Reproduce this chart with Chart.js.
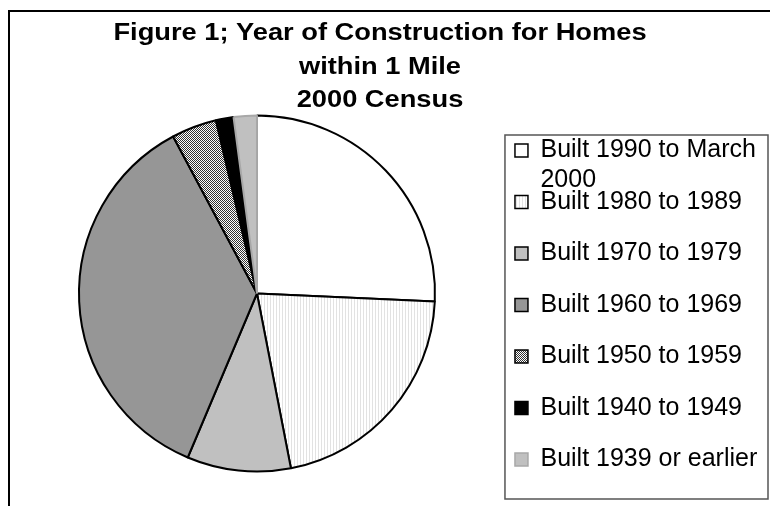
<!DOCTYPE html>
<html>
<head>
<meta charset="utf-8">
<script src="https://cdn.jsdelivr.net/npm/chart.js@4.4.0/dist/chart.umd.min.js"></script>
<style>
  html, body { margin: 0; padding: 0; background: #fff; }
</style>
</head>
<body>
<canvas id="yearChart" width="770" height="506"></canvas>
<script>
const titleLines = ['Figure 1; Year of Construction for Homes', 'within 1 Mile', '2000 Census'];
const categories = [
    ['Built 1990 to March', '2000'],
    'Built 1980 to 1989',
    'Built 1970 to 1979',
    'Built 1960 to 1969',
    'Built 1950 to 1959',
    'Built 1940 to 1949',
    'Built 1939 or earlier'
];
const shares = [25.7, 21.2, 9.4, 35.8, 4.1, 1.6, 2.1];

function makePattern(w, h, draw) {
    const c = document.createElement('canvas');
    c.width = w;
    c.height = h;
    const g = c.getContext('2d');
    g.fillStyle = '#fff';
    g.fillRect(0, 0, w, h);
    draw(g);
    return g.createPattern(c, 'repeat');
}

// faint vertical hatching
const stripes = makePattern(3, 1, g => {
    g.fillStyle = '#e2e2e2';
    g.fillRect(0, 0, 1, 1);
});
// fine checkerboard
const checker = makePattern(2, 2, g => {
    g.fillStyle = '#333';
    g.fillRect(0, 0, 1, 1);
    g.fillRect(1, 1, 1, 1);
});

const sliceFills = ['#ffffff', stripes, '#c0c0c0', '#969696', checker, '#000000', '#c0c0c0'];
const sliceBorders = ['#000', '#000', '#000', '#000', '#000', '#000', '#a8a8a8'];

const legendFont = { family: "'Liberation Sans', Arial, sans-serif", size: 25 };

// Excel-style frame, legend border and the stretched bold title
const framePlugin = {
    id: 'frame',
    beforeDraw(chart) {
        const ctx = chart.ctx;
        ctx.save();
        ctx.fillStyle = '#fff';
        ctx.fillRect(0, 0, chart.width, chart.height);
        ctx.strokeStyle = '#000';
        ctx.lineWidth = 2;
        ctx.beginPath();
        ctx.moveTo(9, chart.height);
        ctx.lineTo(9, 11);
        ctx.lineTo(chart.width, 11);
        ctx.stroke();
        ctx.restore();
    },
    afterDraw(chart) {
        const ctx = chart.ctx;
        const lg = chart.legend;
        const first = lg.legendHitBoxes[0];
        ctx.save();
        ctx.strokeStyle = '#555';
        ctx.lineWidth = 1.5;
        const bx = first.left - 10, by = first.top - 3;
        ctx.strokeRect(bx, by, chart.width - 2 - bx, lg.bottom + 0.5 - by);

        // second line of the first label
        ctx.fillStyle = '#000';
        ctx.font = legendFont.size + 'px ' + legendFont.family;
        ctx.textBaseline = 'middle';
        categories[0].slice(1).forEach((t, i) => {
            ctx.fillText(t, first.left + 13 + legendFont.size / 2, first.top + legendFont.size / 2 + 30 * (i + 1));
        });

        // title
        ctx.font = "bold 23.5px 'Liberation Sans', Arial, sans-serif";
        ctx.textAlign = 'center';
        ctx.textBaseline = 'alphabetic';
        titleLines.forEach((line, i) => {
            ctx.save();
            ctx.translate(380, 40 + i * 33.5);
            ctx.scale(1.16, 1);
            ctx.fillText(line, 0, 0);
            ctx.restore();
        });
        ctx.restore();
    }
};

const ctx = document.getElementById('yearChart').getContext('2d');
const yearChart = new Chart(ctx, {
    type: 'pie',
    data: {
        labels: categories,
        datasets: [{
            data: shares,
            backgroundColor: sliceFills,
            borderColor: sliceBorders,
            borderWidth: 2,
            radius: 178
        }]
    },
    options: {
        responsive: false,
        animation: false,
        layout: {
            padding: { left: 25.5, right: 2.75, top: 88.5, bottom: 7.5 }
        },
        plugins: {
            tooltip: { enabled: false },
            title: { display: false },
            legend: {
                position: 'right',
                align: 'end',
                labels: {
                    color: '#000',
                    font: legendFont,
                    boxWidth: 13,
                    boxHeight: 13,
                    padding: 26.5,
                    generateLabels(chart) {
                        const items = Chart.overrides.doughnut.plugins.legend.labels.generateLabels(chart);
                        items.forEach(it => {
                            if (Array.isArray(it.text)) it.text = it.text[0];
                            it.lineWidth = 1.5;
                        });
                        return items;
                    }
                }
            }
        }
    },
    plugins: [framePlugin]
});
</script>
</body>
</html>
